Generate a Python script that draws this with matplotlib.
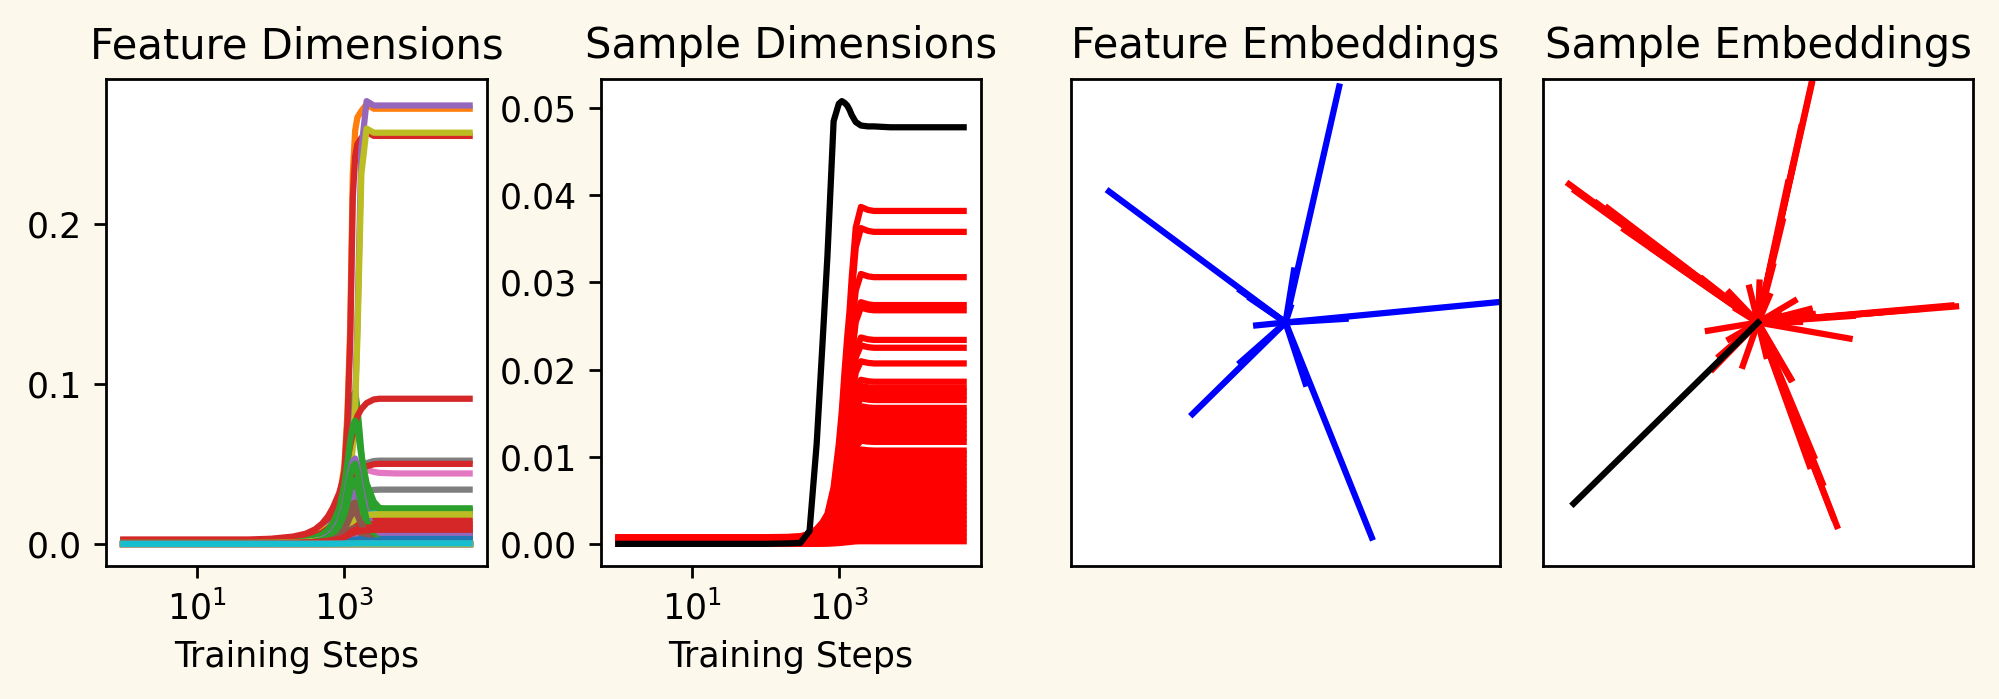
import numpy as np
import matplotlib
matplotlib.use("Agg")
import matplotlib.pyplot as plt
from matplotlib.ticker import NullLocator

# training checkpoints (steps)
steps = [1, 2, 5, 10, 20, 50, 100, 200, 300, 400, 500, 600, 700, 850, 1000,
         1100, 1200, 1300, 1400, 1500, 1700, 2000, 2500, 3000, 5000, 10000,
         20000, 50000]

# normalised curve shapes (fraction of final value)
rise_fast = [0.008, 0.008, 0.008, 0.008, 0.008, 0.008, 0.009, 0.012, 0.018,
             0.025, 0.033, 0.045, 0.06, 0.1, 0.18, 0.3, 0.5, 0.85, 0.95, 0.98,
             0.995, 1.01, 1.0, 1.0, 1.0, 1.0, 1.0, 1.0]
rise_late = [0.008, 0.008, 0.008, 0.008, 0.008, 0.008, 0.009, 0.012, 0.018,
             0.025, 0.033, 0.04, 0.048, 0.07, 0.1, 0.125, 0.16, 0.24, 0.33, 0.5,
             0.9, 1.01, 1.0, 1.0, 1.0, 1.0, 1.0, 1.0]
rise_slow = [0.03, 0.03, 0.03, 0.03, 0.03, 0.03, 0.035, 0.05, 0.07, 0.1, 0.14,
             0.19, 0.25, 0.35, 0.48, 0.58, 0.68, 0.76, 0.83, 0.88, 0.93, 0.97,
             0.995, 1.0, 1.0, 1.0, 1.0, 1.0]
bump = [0.0, 0.0, 0.0, 0.0, 0.0, 0.0, 0.0, 0.0, 0.01, 0.03, 0.05, 0.08, 0.13,
        0.25, 0.45, 0.65, 0.85, 0.97, 1.0, 0.9, 0.6, 0.3, 0.1, 0.03, 0.0, 0.0,
        0.0, 0.0]

# feature dimensions: final value, transient peak, curve kind (f=fast, l=late, s=slow)
feat_final = [0.007, 0.272, 0.0, 0.255, 0.274, 0.0, 0.044, 0.052, 0.257, 0.0005,
              0.005, 0.0025, 0.0222, 0.0907, 0.0055, 0.002, 0.0035, 0.0339, 0.0169, 0.019,
              0.0075, 0.001, 0.021, 0.050, 0.003, 0.0015, 0.002, 0.0035, 0.0, 0.0002,
              0.006, 0.0015, 0.0205, 0.0145, 0.004, 0.001, 0.003, 0.002, 0.0185, 0.0008,
              0.0045, 0.0, 0.0, 0.0125, 0.005, 0.0, 0.0025, 0.0, 0.002, 0.0,
              0.003, 0.0005, 0.0, 0.0105, 0.0, 0.0, 0.001, 0.001, 0.0, 0.001,
              0.002, 0.0, 0.0, 0.0088, 0.0, 0.0, 0.0, 0.0, 0.0, 0.0003]
feat_peak = [0.0, 0.0, 0.095, 0.0, 0.0, 0.035, 0.012, 0.0, 0.0, 0.0,
             0.0, 0.02, 0.0, 0.0, 0.045, 0.02, 0.0, 0.0, 0.0, 0.0,
             0.0, 0.01, 0.03, 0.0, 0.03, 0.015, 0.0, 0.0, 0.015, 0.0,
             0.0, 0.0, 0.06, 0.0, 0.05, 0.025, 0.0, 0.0, 0.0, 0.0,
             0.0, 0.0, 0.04, 0.0, 0.0, 0.01, 0.0, 0.0, 0.0, 0.0,
             0.0, 0.0, 0.05, 0.0, 0.0, 0.02, 0.0, 0.0, 0.0, 0.0,
             0.0, 0.0, 0.0, 0.0, 0.0, 0.0, 0.0, 0.0, 0.0, 0.0]
feat_kind = ["s", "f", "s", "f", "l", "s", "s", "s", "l", "s"] + ["s"] * 60

# sample dimensions
sample_rise = [0.02, 0.02, 0.02, 0.02, 0.02, 0.02, 0.02, 0.021, 0.023, 0.03,
               0.045, 0.065, 0.09, 0.17, 0.3, 0.4, 0.52, 0.62, 0.7, 0.8, 0.95,
               1.012, 1.003, 1.0, 1.0, 1.0, 1.0, 1.0]
sample_levels = [0.0003, 0.0008, 0.0013, 0.0018, 0.0023, 0.0028, 0.0033, 0.0038,
                 0.0043, 0.0048, 0.0053, 0.0058, 0.0063, 0.0068, 0.0073, 0.0078,
                 0.0083, 0.0088, 0.0093, 0.0098, 0.0103, 0.0107,
                 0.0117, 0.0122, 0.0127, 0.0132, 0.0137, 0.0142, 0.0147, 0.0152, 0.0156,
                 0.0165, 0.0170, 0.0175, 0.0179,
                 0.0186, 0.0207, 0.0225, 0.0234, 0.0268, 0.0274, 0.0306, 0.0358, 0.0382]
sample_black = [0.0, 0.0, 0.0, 0.0, 0.0, 0.0, 0.0, 0.00005, 0.0001, 0.0015,
                0.0115, 0.023, 0.033, 0.0485, 0.0505, 0.0508, 0.0506, 0.0503,
                0.0498, 0.0492, 0.0484, 0.048, 0.0479, 0.0479, 0.0478, 0.0478,
                0.0478, 0.0478]

# embedding trajectories: end points (start at origin)
feat_emb_x = [0.250, 0.039, 0.023, -0.823, -0.21, -0.163, 1.02, 0.28,
              -0.434, -0.21, 0.402, 0.093, -0.137]
feat_emb_y = [0.969, 0.213, 0.063, 0.538, 0.131, 0.098, 0.086, 0.015,
              -0.376, -0.163, -0.883, -0.251, -0.012]
samp_emb_x = [0.258, 0.25, 0.20, 0.165, 0.139, 0.114, 0.069,
              -0.879, -0.85, -0.75, -0.70, -0.621, -0.55, -0.489, -0.45, -0.265,
              -0.257, -0.148,
              0.921, 0.90, 0.75, 0.565, 0.441, 0.255, 0.24,
              0.367, 0.35, 0.30, 0.26, 0.24, 0.193, 0.179, 0.150, 0.131, 0.085,
              -0.233, 0.426, -0.071, 0.154, -0.040, 0.170, 0.240, -0.210,
              -0.133, -0.101, 0.053, 0.1, 0.038, -0.133, -0.179, 0.007, 0.193]
samp_emb_y = [1.02, 0.98, 0.80, 0.654, 0.574, 0.416, 0.232,
              0.568, 0.54, 0.49, 0.47, 0.381, 0.36, 0.30, 0.30, 0.179,
              0.178, 0.096,
              0.066, 0.07, 0.055, 0.041, 0.027, 0.034, 0.051,
              -0.836, -0.80, -0.66, -0.55, -0.589, -0.437, -0.424, -0.232, -0.30, -0.191,
              -0.034, -0.066, -0.178, -0.232, 0.143, 0.089, 0.055, -0.191,
              0.123, 0.055, 0.109, 0.027, -0.137, -0.068, -0.137, 0.164, 0.0]
black_emb_x = [0.0, -0.858]
black_emb_y = [0.0, -0.744]

plt.rcParams["lines.linewidth"] = 1.8
bg = "#fcf9ec"
fig = plt.figure(figsize=(1999 / 250, 699 / 250), dpi=250, facecolor=bg)
ax1 = fig.add_axes([0.0530, 0.1903, 0.1906, 0.6967])
ax2 = fig.add_axes([0.3007, 0.1903, 0.1900, 0.6967])
ax3 = fig.add_axes([0.5358, 0.1903, 0.2146, 0.6967])
ax4 = fig.add_axes([0.7719, 0.1903, 0.2151, 0.6967])

profiles = {"f": np.array(rise_fast), "l": np.array(rise_late), "s": np.array(rise_slow)}
for fin, pk, kind in zip(feat_final, feat_peak, feat_kind):
    ax1.plot(steps, fin * profiles[kind] + pk * np.array(bump))
ax1.set_xscale("log")
ax1.set_title("Feature Dimensions")
ax1.set_xlabel("Training Steps")
ax1.set_yticks([0.0, 0.1, 0.2])

for lev in sample_levels:
    ax2.plot(steps, lev * np.array(sample_rise), color="r")
ax2.plot(steps, sample_black, color="k")
ax2.set_xscale("log")
ax2.set_title("Sample Dimensions")
ax2.set_xlabel("Training Steps")

for ax in (ax1, ax2):
    ax.set_xticks([10, 1000])
    ax.xaxis.set_minor_locator(NullLocator())

for x, y in zip(feat_emb_x, feat_emb_y):
    ax3.plot([0, x], [0, y], color="b")
ax3.set_title("Feature Embeddings")

for x, y in zip(samp_emb_x, samp_emb_y):
    ax4.plot([0, x], [0, y], color="r")
ax4.plot(black_emb_x, black_emb_y, color="k")
ax4.set_title("Sample Embeddings")

for ax in (ax3, ax4):
    ax.set_xlim(-1, 1)
    ax.set_ylim(-1, 1)
    ax.set_xticks([])
    ax.set_yticks([])

fig.savefig("out.png", dpi=250, facecolor=bg)
